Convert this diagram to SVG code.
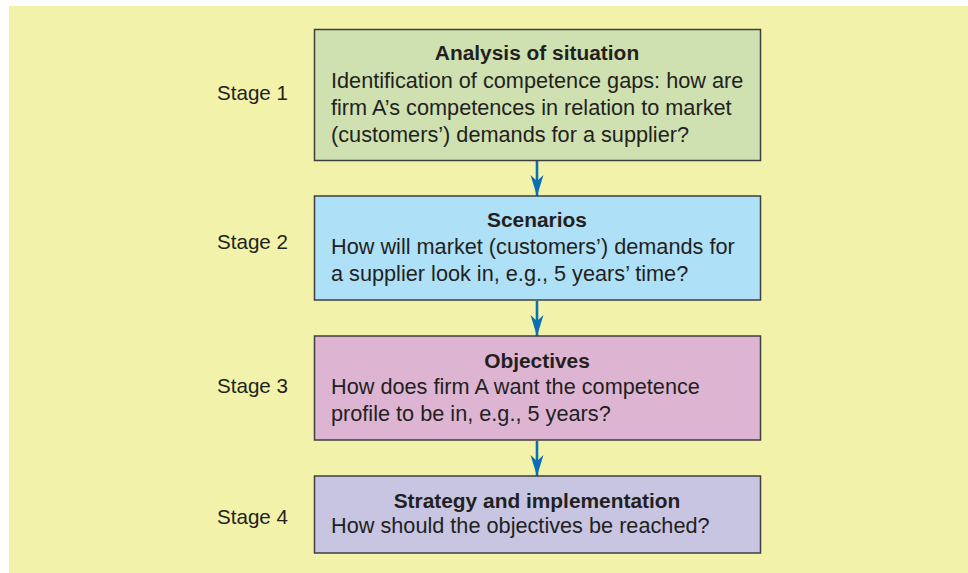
<svg xmlns="http://www.w3.org/2000/svg" width="968" height="573" viewBox="0 0 968 573">
  <style>
    .box { stroke: #3f3f3f; stroke-width: 1.5; }
    .title { font-family: "Liberation Sans", Arial, sans-serif; font-size: 20.9px; font-weight: bold; fill: #231f20; text-anchor: middle; }
    .body { font-family: "Liberation Sans", Arial, sans-serif; font-size: 21.7px; fill: #231f20; }
    .stage { font-family: "Liberation Sans", Arial, sans-serif; font-size: 20.6px; fill: #231f20; }
    .conn { stroke: #0a70b4; stroke-width: 2.6; fill: none; }
    .head { fill: #0a70b4; }
  </style>
  <defs>
    <!-- arrowhead drawn along +x so orient="auto" turns it with the line -->
    <marker id="arrow" markerWidth="22" markerHeight="14" refX="21" refY="7" orient="auto" markerUnits="userSpaceOnUse" viewBox="0 0 22 14">
      <path class="head" d="M21 7 L0 0.5 L6 7 L0 13.5 Z"/>
    </marker>
  </defs>

  <!-- background panel -->
  <rect x="9" y="6" width="959" height="567" fill="#f2f2aa"/>

  <!-- stage labels -->
  <g id="stage-labels">
    <text class="stage" x="217" y="100">Stage 1</text>
    <text class="stage" x="217" y="249">Stage 2</text>
    <text class="stage" x="217" y="393">Stage 3</text>
    <text class="stage" x="217" y="524">Stage 4</text>
  </g>

  <!-- connectors -->
  <g id="connectors">
    <line class="conn" x1="537" y1="161" x2="537" y2="196" marker-end="url(#arrow)"/>
    <line class="conn" x1="537" y1="301" x2="537" y2="336" marker-end="url(#arrow)"/>
    <line class="conn" x1="537" y1="441" x2="537" y2="476" marker-end="url(#arrow)"/>
  </g>

  <g id="analysis">
    <rect class="box" x="314.5" y="29.5" width="446" height="131" fill="#cfe1b0"/>
    <text class="title" x="537" y="60">Analysis of situation</text>
    <text class="body" x="331" y="88">Identification of competence gaps: how are</text>
    <text class="body" x="331" y="115">firm A’s competences in relation to market</text>
    <text class="body" x="331" y="142">(customers’) demands for a supplier?</text>
  </g>

  <g id="scenarios">
    <rect class="box" x="314.5" y="196" width="446" height="104" fill="#aee0f8"/>
    <text class="title" x="537" y="227">Scenarios</text>
    <text class="body" x="331" y="254">How will market (customers’) demands for</text>
    <text class="body" x="331" y="281">a supplier look in, e.g., 5 years’ time?</text>
  </g>

  <g id="objectives">
    <rect class="box" x="314.5" y="336" width="446" height="104" fill="#ddb5d3"/>
    <text class="title" x="537" y="368">Objectives</text>
    <text class="body" x="331" y="394">How does firm A want the competence</text>
    <text class="body" x="331" y="421">profile to be in, e.g., 5 years?</text>
  </g>

  <g id="strategy">
    <rect class="box" x="314.5" y="476" width="446" height="77" fill="#c7c5e2"/>
    <text class="title" x="537" y="508">Strategy and implementation</text>
    <text class="body" x="331" y="533">How should the objectives be reached?</text>
  </g>
</svg>
